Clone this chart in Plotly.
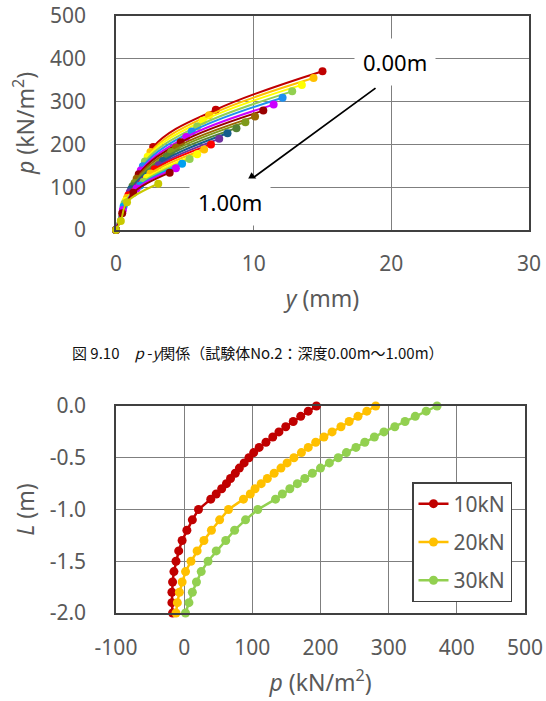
import plotly.graph_objects as go

# ---------------- data ----------------
# Depth below top (m): 0.00..0.90 step 0.05, then 1.00..2.00 step 0.1
L_depth = [0.0, -0.05, -0.10, -0.15, -0.20, -0.25, -0.30, -0.35, -0.40, -0.45,
           -0.50, -0.55, -0.60, -0.65, -0.70, -0.75, -0.80, -0.85, -0.90,
           -1.0, -1.1, -1.2, -1.3, -1.4, -1.5, -1.6, -1.7, -1.8, -1.9, -2.0]

p_10kN = [194, 182, 171, 160, 149, 139, 130, 120, 110, 102,
          95, 88, 81, 75, 68, 62, 55, 47, 39,
          21, 12, 4, -3, -8, -12, -15, -17, -18, -18, -17]
p_20kN = [281, 268, 255, 242, 230, 217, 205, 193, 182, 172,
          161, 151, 142, 132, 122, 113, 104, 97, 87,
          65, 52, 40, 29, 19, 10, 2, -3, -7, -10, -12]
p_30kN = [371, 355, 339, 324, 309, 293, 279, 265, 252, 238,
          226, 213, 200, 188, 177, 166, 155, 144, 134,
          108, 90, 74, 61, 47, 35, 25, 18, 12, 7, 2]

# p-y curves (depth 0.00m .. 1.00m): displacement y (mm) at each load
n_py = 20
y_10kN = [2.7, 2.5, 2.3, 2.1, 1.95, 1.8, 1.65, 1.5, 1.35, 1.2,
          1.1, 1.0, 0.9, 0.8, 0.7, 0.62, 0.55, 0.5, 0.45, 0.35]
y_20kN = [7.25, 6.76, 6.3, 5.9, 5.5, 5.1, 4.7, 4.35, 4.0, 3.7,
          3.4, 3.1, 2.8, 2.5, 2.25, 2.0, 1.75, 1.5, 1.25, 0.8]
y_30kN = [15.0, 14.35, 13.5, 12.8, 12.1, 11.45, 10.7, 10.1, 9.4, 8.75,
          8.1, 7.5, 6.9, 6.4, 5.9, 5.35, 4.8, 4.35, 3.9, 3.07]

py_colors = ["#C00000", "#FFC000", "#FFFF00", "#92D050", "#1E90F0",
             "#CC00FF", "#990000", "#996600", "#7F9A1A", "#548235",
             "#155E8C", "#7030A0", "#FF0000", "#FFC000", "#FFFF00",
             "#92D050", "#00A0F0", "#CC00FF", "#990000", "#C8C800"]

load_names = ["10kN", "20kN", "30kN"]
load_colors = ["#C00000", "#FFC000", "#92D050"]

top_x_ticks = [0, 10, 20, 30]
top_y_ticks = [0, 100, 200, 300, 400, 500]
bot_x_ticks = [-100, 0, 100, 200, 300, 400, 500]
bot_y_ticks = [0.0, -0.5, -1.0, -1.5, -2.0]
bot_y_labels = ["0.0", "-0.5", "-1.0", "-1.5", "-2.0"]
bot_x_labels = ["-100", "0", "100", "200", "300", "400", "500"]

caption = "図 9.10　<i>p</i> -<i>y</i>関係（試験体No.2：深度0.00m～1.00m）"

# ---------------- figure ----------------
W, H = 546, 701
fig = go.Figure()

for i in range(n_py):
    fig.add_trace(go.Scatter(
        x=[0, y_10kN[i], y_20kN[i], y_30kN[i]],
        y=[0, p_10kN[i], p_20kN[i], p_30kN[i]],
        mode="lines+markers",
        line=dict(color=py_colors[i], width=2, shape="spline", smoothing=1.0),
        marker=dict(color=py_colors[i], size=8),
        xaxis="x", yaxis="y", showlegend=False, cliponaxis=False,
    ))

for p_vals, name, col in zip([p_10kN, p_20kN, p_30kN], load_names, load_colors):
    fig.add_trace(go.Scatter(
        x=p_vals, y=L_depth, mode="lines+markers", name=name,
        line=dict(color=col, width=2.5),
        marker=dict(color=col, size=9),
        xaxis="x2", yaxis="y2", legendgroup=name, cliponaxis=False,
    ))

tick_font = dict(family="Noto Sans", size=21, color="#595959")
title_font = dict(family="Noto Sans", size=23, color="#595959")
ax_common = dict(showgrid=True, gridcolor="#7F7F7F", gridwidth=1,
                 showline=True, linecolor="#404040", linewidth=1.5, mirror=True,
                 zeroline=False, tickfont=tick_font, ticks="", automargin=False)

def px2x(px):
    return px / W

def py2y(py):
    return 1 - py / H

fig.update_layout(
    width=W, height=H, margin=dict(l=0, r=0, t=0, b=0),
    paper_bgcolor="white", plot_bgcolor="white",
    xaxis=dict(domain=[px2x(116), px2x(529)], range=[0, 30], tickvals=top_x_ticks,
               anchor="y", ticklabelstandoff=14,
               title=dict(text="<i>y</i> (mm)", font=title_font, standoff=15),
               **ax_common),
    yaxis=dict(domain=[py2y(230), py2y(16)], range=[0, 500], tickvals=top_y_ticks,
               anchor="x", ticklabelstandoff=24,
               title=dict(text="<i>p</i> (kN/m<sup>2</sup>)", font=title_font, standoff=9),
               **ax_common),
    xaxis2=dict(domain=[px2x(116), px2x(525)], range=[-100, 500], tickvals=bot_x_ticks,
                ticktext=bot_x_labels, anchor="y2", ticklabelstandoff=15,
                title=dict(text="<i>p</i> (kN/m<sup>2</sup>)", font=title_font, standoff=15),
                **ax_common),
    yaxis2=dict(domain=[py2y(613), py2y(406)], range=[-2.0, 0.0], tickvals=bot_y_ticks,
                ticktext=bot_y_labels, anchor="x2", ticklabelstandoff=24,
                title=dict(text="<i>L</i> (m)", font=title_font, standoff=9),
                **ax_common),
    legend=dict(x=px2x(412), y=py2y(482), xanchor="left", yanchor="top",
                bgcolor="white", bordercolor="#404040", borderwidth=1.5,
                font=dict(family="Noto Sans", size=21, color="#595959"),
                tracegroupgap=8, traceorder="grouped"),
    annotations=[
        dict(xref="x", yref="y", axref="x", ayref="y",
             x=9.44, y=110, ax=18.96, ay=334, text="",
             showarrow=True, arrowhead=2, arrowsize=1.2, arrowwidth=1.8,
             arrowcolor="black"),
        dict(xref="paper", yref="paper", x=px2x(395), y=py2y(62),
             xanchor="center", yanchor="middle",
             text="0.00m", showarrow=False, bgcolor="white",
             font=dict(family="Noto Sans", size=22, color="black"),
             borderpad=8),
        dict(xref="paper", yref="paper", x=px2x(230), y=py2y(202),
             xanchor="center", yanchor="middle",
             text="1.00m", showarrow=False, bgcolor="white",
             font=dict(family="Noto Sans", size=22, color="black"),
             borderpad=8),
        dict(xref="paper", yref="paper", x=px2x(258), y=py2y(352),
             xanchor="center", yanchor="middle",
             text=caption, showarrow=False,
             font=dict(family="Noto Sans CJK JP", size=15, color="#111111")),
    ],
)

fig.write_html("out.html")
